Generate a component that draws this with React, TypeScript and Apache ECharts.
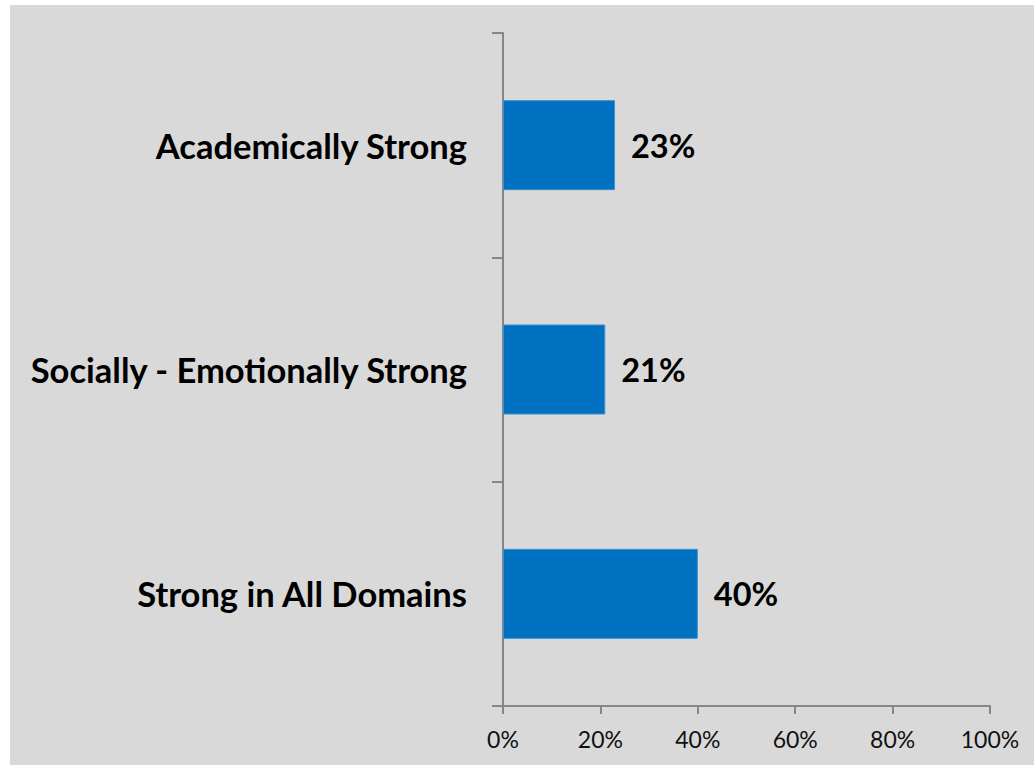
import React, { useEffect, useRef } from "react";
import * as echarts from "echarts";

const categories = ["Academically Strong", "Socially - Emotionally Strong", "Strong in All Domains"];
const values = [0.23, 0.21, 0.4];
const xTicks = [0, 0.2, 0.4, 0.6, 0.8, 1];

const FONT = "Lato, 'Open Sans', sans-serif";

export default function App() {
  const ref = useRef<HTMLDivElement>(null);
  useEffect(() => {
    if (!ref.current) return;
    const chart = echarts.init(ref.current, undefined, { renderer: "svg" });
    chart.setOption({
      animation: false,
      backgroundColor: "#d9d9d9",
      grid: { left: 493, right: 44, top: 28, bottom: 59, containLabel: false },
      xAxis: {
        type: "value",
        min: xTicks[0],
        max: xTicks[xTicks.length - 1],
        interval: 0.2,
        splitLine: { show: false },
        axisLine: { show: true, lineStyle: { color: "#868686", width: 2 } },
        axisTick: { show: true, length: 8, lineStyle: { color: "#868686", width: 2 } },
        axisLabel: {
          margin: 21,
          fontFamily: FONT,
          fontSize: 23,
          color: "#111",
          formatter: (v: number) => `${Math.round(v * 100)}%`,
        },
      },
      yAxis: {
        type: "category",
        inverse: true,
        data: categories,
        axisLine: { show: true, lineStyle: { color: "#868686", width: 2 } },
        axisTick: { show: true, length: 11, lineStyle: { color: "#868686", width: 2 } },
        axisLabel: {
          margin: 36,
          fontFamily: FONT,
          fontWeight: "bold",
          fontSize: 34.5,
          color: "#000",
        },
      },
      series: [
        {
          type: "bar",
          data: values,
          barWidth: 90,
          itemStyle: { color: "#0070c0", borderColor: "#3a8fd0", borderWidth: 1 },
          label: {
            show: true,
            position: "right",
            distance: 16,
            fontFamily: FONT,
            fontWeight: "bold",
            fontSize: 32.5,
            color: "#000",
            formatter: (p: any) => `${Math.round(p.value * 100)}%`,
          },
        },
      ],
    });
    return () => chart.dispose();
  }, []);
  return (
    <div
      ref={ref}
      style={{ position: "fixed", left: 10, top: 5, width: 1024, height: 760 }}
    />
  );
}
